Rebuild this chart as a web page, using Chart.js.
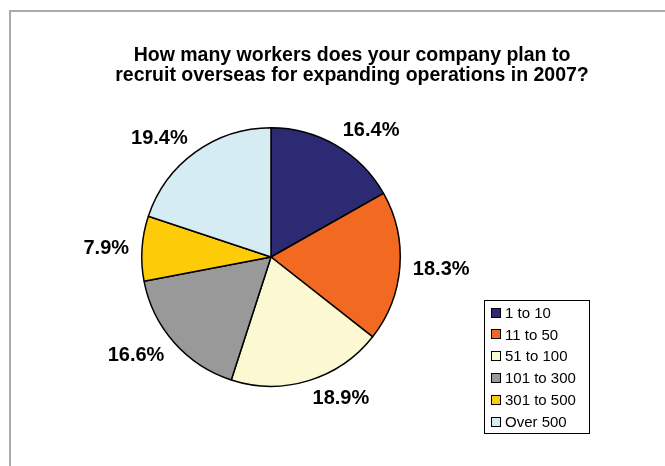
<!DOCTYPE html>
<html>
<head>
<meta charset="utf-8">
<script src="https://cdn.jsdelivr.net/npm/chart.js@4/dist/chart.umd.min.js"></script>
<style>
    html, body { margin: 0; padding: 0; background: #fff; overflow: hidden; }
    #wrap { position: relative; width: 665px; height: 466px; }
</style>
</head>
<body>
<div id="wrap"><canvas id="pie" width="665" height="466"></canvas></div>
<script>
// данные диаграммы
const categories = ['1 to 10', '11 to 50', '51 to 100', '101 to 300', '301 to 500', 'Over 500']
const shares = [16.4, 18.3, 18.9, 16.6, 7.9, 19.4]
const colors = ['#2b2a72', '#f26922', '#fbf8d2', '#999999', '#fdcb08', '#d5ecf3']
const titleLines = [
    'How many workers does your company plan to',
    'recruit overseas for expanding operations in 2007?'
]

const FONT = '"Liberation Sans", Arial, sans-serif'

// рамка, заголовок, подписи процентов и легенда в рамке
const decorPlugin = {
    id: 'decor',
    beforeDraw(chart) {
        const ctx = chart.ctx
        ctx.save()
        ctx.fillStyle = '#fff'
        ctx.fillRect(0, 0, chart.width, chart.height)
        ctx.strokeStyle = '#ababab'
        ctx.lineWidth = 2
        ctx.beginPath()
        ctx.moveTo(10, chart.height + 5)
        ctx.lineTo(10, 11)
        ctx.lineTo(chart.width + 5, 11)
        ctx.stroke()
        ctx.restore()
    },
    afterDatasetsDraw(chart) {
        const ctx = chart.ctx
        ctx.save()

        // заголовок
        ctx.fillStyle = '#000'
        ctx.font = 'bold 19.5px ' + FONT
        ctx.textAlign = 'center'
        ctx.textBaseline = 'alphabetic'
        titleLines.forEach((line, i) => ctx.fillText(line, 352, 61 + i * 19.5))

        // подписи у секторов
        ctx.font = 'bold 20px ' + FONT
        ctx.textBaseline = 'middle'
        const meta = chart.getDatasetMeta(0)
        meta.data.forEach((arc, i) => {
            const { x, y, startAngle, endAngle, outerRadius } = arc.getProps(['x', 'y', 'startAngle', 'endAngle', 'outerRadius'], true)
            const mid = (startAngle + endAngle) / 2
            const dx = Math.cos(mid)
            const dy = Math.sin(mid)
            const ax = x + dx * (outerRadius + 13)
            const ay = y + dy * (outerRadius + 13)
            const text = shares[i].toFixed(1) + '%'
            ctx.textAlign = dx >= 0 ? 'left' : 'right'
            ctx.fillText(text, ax, ay + dy * 5 + 1)
        })

        // легенда
        const box = { x: 484.5, y: 300.5, w: 105, h: 133 }
        ctx.strokeStyle = '#000'
        ctx.lineWidth = 1
        ctx.strokeRect(box.x, box.y, box.w, box.h)
        ctx.font = '15px ' + FONT
        ctx.textAlign = 'left'
        categories.forEach((name, i) => {
            const cy = 312.5 + i * 21.9
            ctx.fillStyle = colors[i]
            ctx.fillRect(491, Math.round(cy - 5), 10, 10)
            ctx.strokeRect(491.5, Math.round(cy - 5) + 0.5, 9, 9)
            ctx.fillStyle = '#000'
            ctx.fillText(name, 505, cy + 1)
        })
        ctx.restore()
    }
}

new Chart(document.getElementById('pie').getContext('2d'), {
    type: 'pie',
    data: {
        labels: categories,
        datasets: [{
            data: shares,
            backgroundColor: colors,
            borderColor: '#000',
            borderWidth: 1.5,
            hoverOffset: 0
        }]
    },
    options: {
        responsive: false,
        animation: false,
        events: [],
        layout: {
            padding: { left: 141, right: 264, top: 127, bottom: 79 }
        },
        plugins: {
            legend: { display: false },
            title: { display: false },
            tooltip: { enabled: false }
        }
    },
    plugins: [decorPlugin]
})
</script>
</body>
</html>
